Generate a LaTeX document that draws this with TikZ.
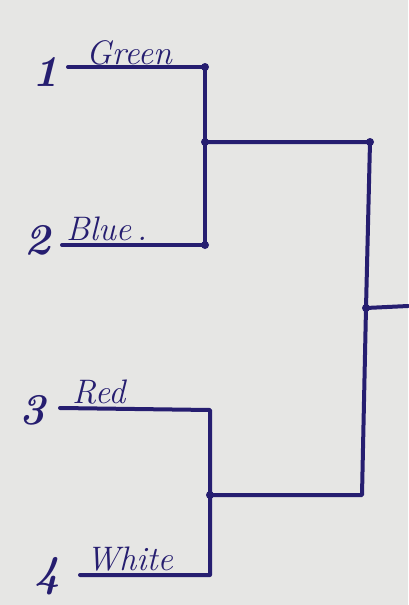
\documentclass[tikz,border=0pt]{standalone}
\definecolor{inkc}{RGB}{38,30,112}
\definecolor{paper}{RGB}{230,230,228}
\begin{document}
\begin{tikzpicture}[x=1pt,y=-1pt,
  ink/.style={draw=inkc, line width=4pt, line cap=round, line join=round},
  lbl/.style={text=inkc, font=\fontsize{34}{36}\selectfont\itshape, anchor=base west, inner sep=0pt},
  num/.style={text=inkc, font=\fontsize{44}{44}\selectfont\bfseries\itshape, inner sep=0pt},
  dot/.style={circle, fill=inkc, inner sep=0pt, minimum size=8pt}]
\fill[paper] (0,0) rectangle (408,605);
\useasboundingbox (0,0) rectangle (408,605);
% end points
\coordinate (g0) at (68,67);  \coordinate (g1) at (205,67);
\coordinate (b0) at (62,245); \coordinate (b1) at (205,245);
\coordinate (s1) at (205,142); \coordinate (s1r) at (370,142);
\coordinate (r0) at (60,408); \coordinate (r1) at (210,410);
\coordinate (w0) at (80,575); \coordinate (w1) at (210,575);
\coordinate (s2) at (210,495); \coordinate (s2r) at (362,495);
\coordinate (f) at (366,308); \coordinate (out) at (408,306);
% labels
\node[lbl] (tg) at (86,64) {Green};
\node[lbl] (tb) at (66,240) {Blue\,.};
\node[lbl] (tr) at (72,403) {Red};
\node[lbl] (tw) at (86,570) {White};
\node[num] (n1) at (46,72) {1};
\node[num] (n2) at (38,240) {2};
\node[num] (n3) at (33,410) {3};
\node[num] (n4) at (48,576) {4};
% bracket
\draw[ink] (g0) -- (g1) -- (b1) -- (b0);
\draw[ink] (r0) -- (r1) -- (w1) -- (w0);
\draw[ink] (s1) -- (s1r) -- (f) -- (s2r) -- (s2);
\draw[ink] (f) -- (out);
\foreach \p in {g1,s1,s1r,f,s2,b1}
  \node[dot] (d\p) at (\p) {};
\end{tikzpicture}
\end{document}
